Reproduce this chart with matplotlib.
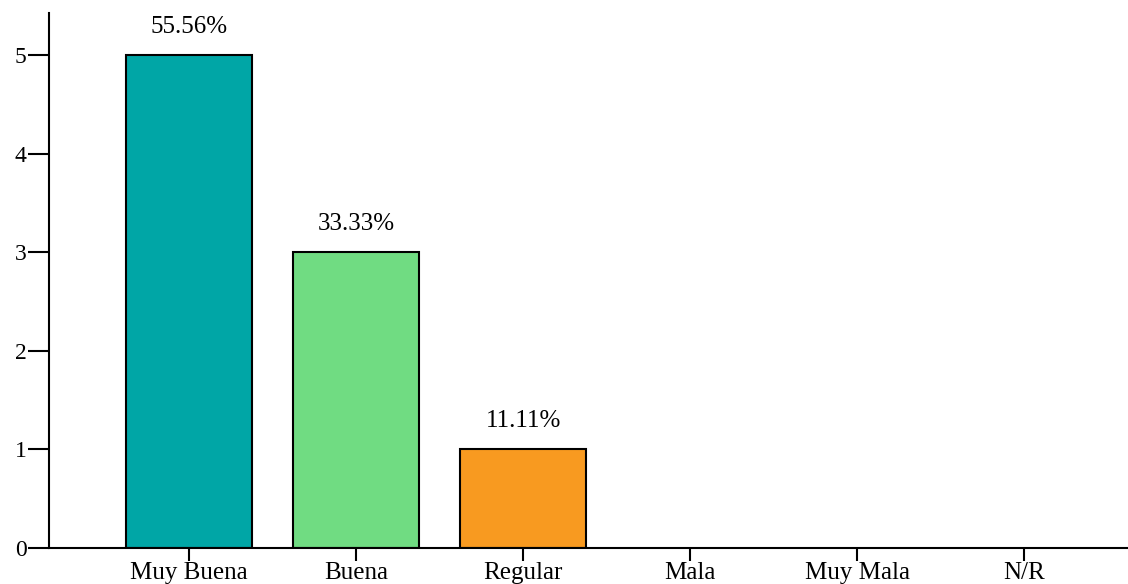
import numpy as np
import matplotlib.pyplot as plt

categories = ["Muy Buena", "Buena", "Regular", "Mala", "Muy Mala", "N/R"]
counts = [5, 3, 1, 0, 0, 0]
percent_labels = ["55.56%", "33.33%", "11.11%", "", "", ""]
colors = ["#00A6A6", "#70DC82", "#F89A20", "#FFFFFF", "#FFFFFF", "#FFFFFF"]

plt.rcParams['font.family'] = ['Liberation Serif', 'DejaVu Serif']

fig = plt.figure(figsize=(11.28, 5.84), dpi=100)
ax = fig.add_axes([49 / 1128, 36 / 584, 1 - 49 / 1128, (548 - 13) / 584])

x = np.arange(len(categories))
for i, (c, col) in enumerate(zip(counts, colors)):
    if c > 0:
        ax.bar(x[i], c, width=0.75, color=col, edgecolor="black", linewidth=1.5, zorder=2)
        ax.text(x[i], c + 0.29, percent_labels[i], ha="center", va="center",
                fontsize=18)

ax.set_xlim(-0.837, 5.62)
ax.set_ylim(0, 5.43)
ax.set_xticks(x)
ax.set_xticklabels(categories, fontsize=18)
ax.set_yticks(range(6))
ax.tick_params(axis="y", length=15, width=1.5, labelsize=17, pad=1)
ax.tick_params(axis="x", length=9, width=1.5, labelsize=18, pad=1)

for s in ["top", "right"]:
    ax.spines[s].set_visible(False)
for s in ["left", "bottom"]:
    ax.spines[s].set_linewidth(1.5)

fig.savefig("out.png", dpi=100)
